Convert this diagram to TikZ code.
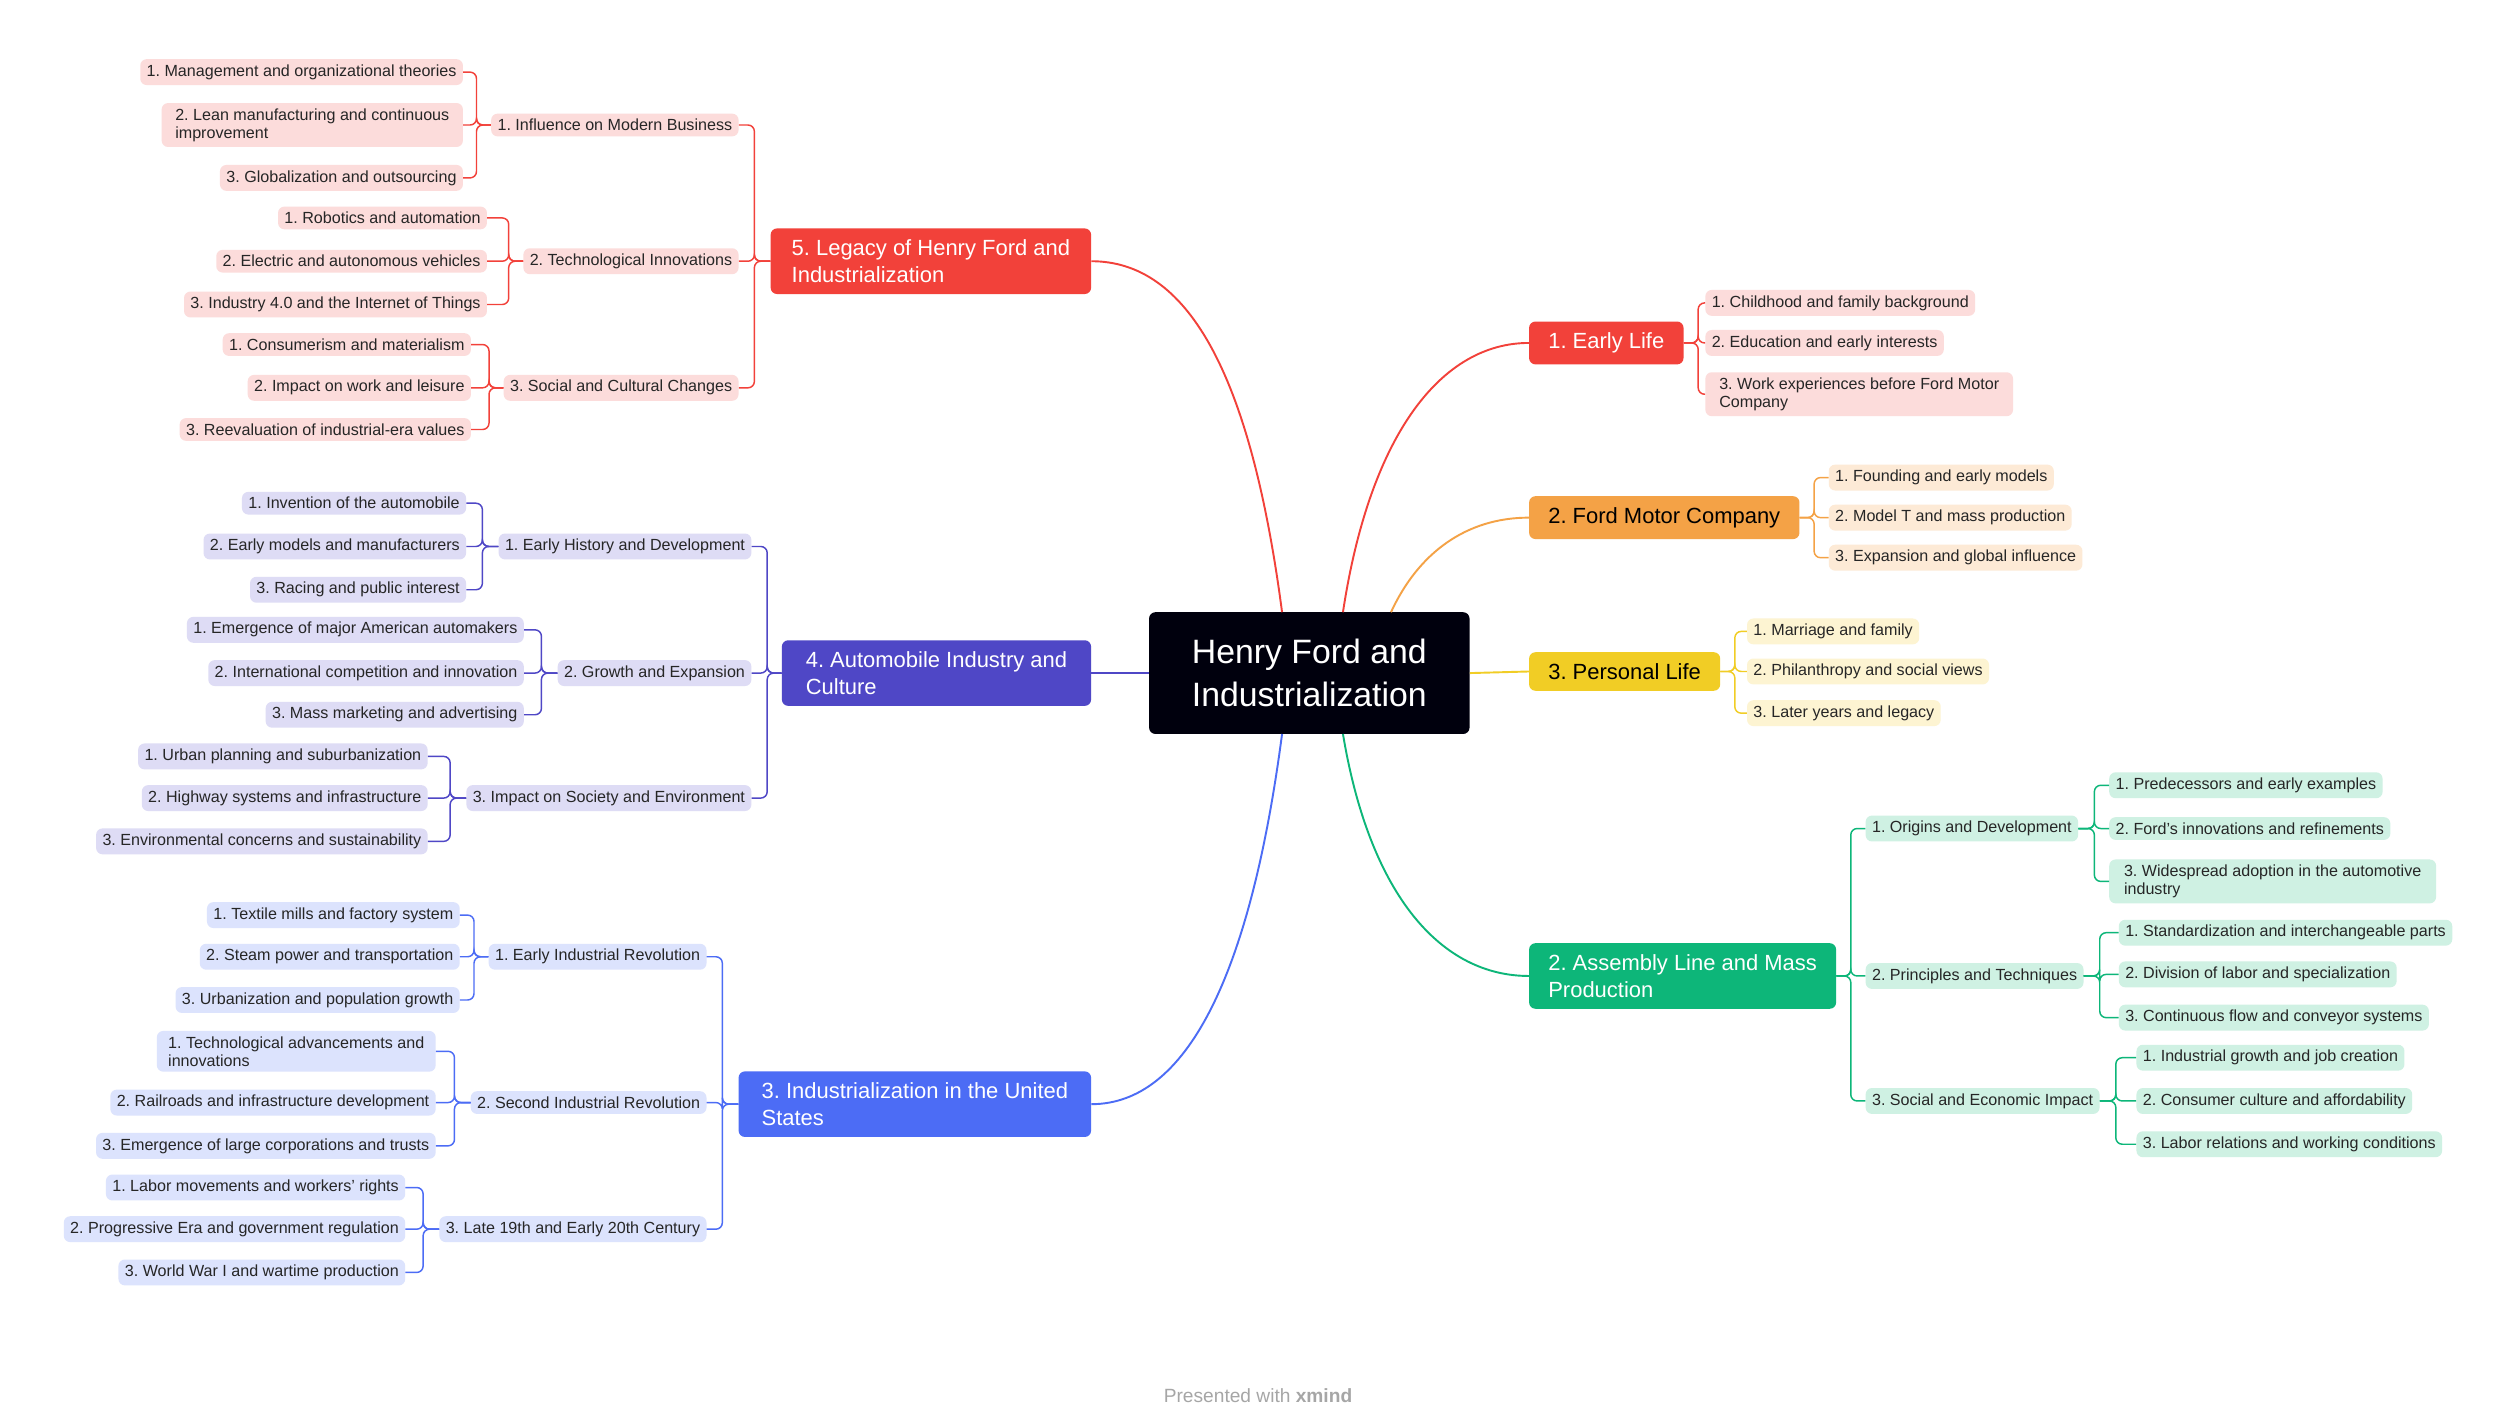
\documentclass[tikz,border=0pt]{standalone}
\usepackage{fontspec}
\setmainfont{Liberation Sans}
\frenchspacing
\newcommand\LeafL[5]{\node[leaf,fill=#1,anchor=east] (#2) at (#3,#4) {#5};}
\newcommand\LeafR[5]{\node[leaf,fill=#1,anchor=west] (#2) at (#3,#4) {#5};}
\begin{document}
\begin{tikzpicture}[x=0.05cm,y=-0.05cm,
 leaf/.style={rounded corners=0.2cm,inner xsep=0.2cm,inner ysep=0.17cm,font=\fontsize{14.3}{16}\selectfont,align=left,text=black!85},
 topic/.style={rounded corners=0.2cm,inner xsep=0.6cm,inner ysep=0.35cm,font=\fontsize{19.5}{24}\selectfont,align=left,text=white},
 lnk/.style={line width=1.3pt,rounded corners=0.2cm},
 cur/.style={line width=1.7pt}]
\definecolor{cr}{HTML}{F2413A}\definecolor{lr}{HTML}{FCDCDB}
\definecolor{co}{HTML}{F4A246}\definecolor{lo}{HTML}{FDEAD6}
\definecolor{cy}{HTML}{F1CD25}\definecolor{ly}{HTML}{FDF4D2}
\definecolor{cg}{HTML}{0DB679}\definecolor{lg}{HTML}{CFF1E3}
\definecolor{ci}{HTML}{4F47C6}\definecolor{li}{HTML}{DEDCF5}
\definecolor{cb}{HTML}{4C6CF5}\definecolor{lb}{HTML}{DCE3FD}
\useasboundingbox[fill=white] (0,0) rectangle (1560,885);
% central
\node[fill=black!95!blue,rounded corners=0.2cm,minimum width=10cm,minimum height=3.8cm,text=white,align=left,font=\fontsize{30}{38}\selectfont] (c) at (817,420) {Henry Ford and\\Industrialization};
% topics
\node[topic,fill=cr,anchor=east,minimum width=10cm] (t5) at (681,163) {5. Legacy of Henry Ford and\\Industrialization};
\node[topic,fill=ci,anchor=east,minimum width=9.65cm] (t4) at (681,420) {4. Automobile Industry and\\Culture};
\node[topic,fill=cb,anchor=east,minimum width=11cm] (t3) at (681,689) {3. Industrialization in the United\\States};
\node[topic,fill=cr,anchor=west] (r1) at (954,214) {1. Early Life};
\node[topic,fill=co,anchor=west,text=black] (r2) at (954,323) {2. Ford Motor Company};
\node[topic,fill=cy,anchor=west,text=black] (r3) at (954,419) {3. Personal Life};
\node[topic,fill=cg,anchor=west] (r4) at (954,609) {2. Assembly Line and Mass\\Production};
% central curves
\draw[cur,cr] (800,382) .. controls (780,230) and (740,163) .. (t5.east);
\draw[cur,cb] (800,458) .. controls (780,610) and (740,689) .. (t3.east);
\draw[cur,ci] (c.west) -- (t4.east);
\draw[cur,cr] (838,382) .. controls (855,270) and (900,214) .. (r1.west);
\draw[cur,co] (868,382) .. controls (885,345) and (915,323) .. (r2.west);
\draw[cur,cy] (c.east) -- (r3.west);
\draw[cur,cg] (838,458) .. controls (855,560) and (900,609) .. (r4.west);
% topic 5
\LeafL{lr}{a1}{461}{78}{1. Influence on Modern Business}
\LeafL{lr}{a2}{461}{163}{2. Technological Innovations}
\LeafL{lr}{a3}{461}{242}{3. Social and Cultural Changes}
\LeafL{lr}{a11}{289}{45}{1. Management and organizational theories}
\node[leaf,fill=lr,anchor=east,minimum width=9.4cm] (a12) at (289,78) {2. Lean manufacturing and continuous\\improvement};
\LeafL{lr}{a13}{289}{111}{3. Globalization and outsourcing}
\LeafL{lr}{a21}{304}{136}{1. Robotics and automation}
\LeafL{lr}{a22}{304}{163}{2. Electric and autonomous vehicles}
\LeafL{lr}{a23}{304}{190}{3. Industry 4.0 and the Internet of Things}
\LeafL{lr}{a31}{294}{215}{1. Consumerism and materialism}
\LeafL{lr}{a32}{294}{242}{2. Impact on work and leisure}
\LeafL{lr}{a33}{294}{268}{3. Reevaluation of industrial-era values}
\foreach \c in {a1,a2,a3} \draw[lnk,cr] (t5.west) -- ++(-10,0) |- (\c.east);
\foreach \c in {a11,a12,a13} \draw[lnk,cr] (a1.west) -- ++(-9,0) |- (\c.east);
\foreach \c in {a21,a22,a23} \draw[lnk,cr] (a2.west) -- ++(-9,0) |- (\c.east);
\foreach \c in {a31,a32,a33} \draw[lnk,cr] (a3.west) -- ++(-9,0) |- (\c.east);
% topic 4
\LeafL{li}{b1}{469}{341}{1. Early History and Development}
\LeafL{li}{b2}{469}{420}{2. Growth and Expansion}
\LeafL{li}{b3}{469}{498}{3. Impact on Society and Environment}
\LeafL{li}{b11}{291}{314}{1. Invention of the automobile}
\LeafL{li}{b12}{291}{341}{2. Early models and manufacturers}
\LeafL{li}{b13}{291}{368}{3. Racing and public interest}
\LeafL{li}{b21}{327}{393}{1. Emergence of major American automakers}
\LeafL{li}{b22}{327}{420}{2. International competition and innovation}
\LeafL{li}{b23}{327}{446}{3. Mass marketing and advertising}
\LeafL{li}{b31}{267}{472}{1. Urban planning and suburbanization}
\LeafL{li}{b32}{267}{498}{2. Highway systems and infrastructure}
\LeafL{li}{b33}{267}{525}{3. Environmental concerns and sustainability}
\foreach \c in {b1,b2,b3} \draw[lnk,ci] (t4.west) -- ++(-9,0) |- (\c.east);
\foreach \c in {b11,b12,b13} \draw[lnk,ci] (b1.west) -- ++(-10,0) |- (\c.east);
\foreach \c in {b21,b22,b23} \draw[lnk,ci] (b2.west) -- ++(-10,0) |- (\c.east);
\foreach \c in {b31,b32,b33} \draw[lnk,ci] (b3.west) -- ++(-10,0) |- (\c.east);
% topic 3
\LeafL{lb}{d1}{441}{597}{1. Early Industrial Revolution}
\LeafL{lb}{d2}{441}{688}{2. Second Industrial Revolution}
\LeafL{lb}{d3}{441}{767}{3. Late 19th and Early 20th Century}
\LeafL{lb}{d11}{287}{571}{1. Textile mills and factory system}
\LeafL{lb}{d12}{287}{597}{2. Steam power and transportation}
\LeafL{lb}{d13}{287}{624}{3. Urbanization and population growth}
\node[leaf,fill=lb,anchor=east,minimum width=8.7cm] (d21) at (272,656) {1. Technological advancements and\\innovations};
\LeafL{lb}{d22}{272}{688}{2. Railroads and infrastructure development}
\LeafL{lb}{d23}{272}{715}{3. Emergence of large corporations and trusts}
\LeafL{lb}{d31}{253}{741}{1. Labor movements and workers' rights}
\LeafL{lb}{d32}{253}{767}{2. Progressive Era and government regulation}
\LeafL{lb}{d33}{253}{794}{3. World War I and wartime production}
\foreach \c in {d1,d2,d3} \draw[lnk,cb] (t3.west) -- ++(-10,0) |- (\c.east);
\foreach \c in {d11,d12,d13} \draw[lnk,cb] (d1.west) -- ++(-9,0) |- (\c.east);
\foreach \c in {d21,d22,d23} \draw[lnk,cb] (d2.west) -- ++(-10,0) |- (\c.east);
\foreach \c in {d31,d32,d33} \draw[lnk,cb] (d3.west) -- ++(-10,0) |- (\c.east);
% right side
\LeafR{lr}{e1}{1064}{189}{1. Childhood and family background}
\LeafR{lr}{e2}{1064}{214}{2. Education and early interests}
\node[leaf,fill=lr,anchor=west,minimum width=9.6cm] (e3) at (1064,246) {3. Work experiences before Ford Motor\\Company};
\foreach \c in {e1,e2,e3} \draw[lnk,cr] (r1.east) -- ++(9,0) |- (\c.west);
\LeafR{lo}{f1}{1141}{298}{1. Founding and early models}
\LeafR{lo}{f2}{1141}{323}{2. Model T and mass production}
\LeafR{lo}{f3}{1141}{348}{3. Expansion and global influence}
\foreach \c in {f1,f2,f3} \draw[lnk,co] (r2.east) -- ++(9,0) |- (\c.west);
\LeafR{ly}{g1}{1090}{394}{1. Marriage and family}
\LeafR{ly}{g2}{1090}{419}{2. Philanthropy and social views}
\LeafR{ly}{g3}{1090}{445}{3. Later years and legacy}
\foreach \c in {g1,g2,g3} \draw[lnk,cy] (r3.east) -- ++(9,0) |- (\c.west);
\LeafR{lg}{h1}{1164}{517}{1. Origins and Development}
\LeafR{lg}{h2}{1164}{609}{2. Principles and Techniques}
\LeafR{lg}{h3}{1164}{687}{3. Social and Economic Impact}
\foreach \c in {h1,h2,h3} \draw[lnk,cg] (r4.east) -- ++(9,0) |- (\c.west);
\LeafR{lg}{h11}{1316}{490}{1. Predecessors and early examples}
\LeafR{lg}{h12}{1316}{517}{2. Ford's innovations and refinements}
\node[leaf,fill=lg,anchor=west,minimum width=10.2cm] (h13) at (1316,550) {3. Widespread adoption in the automotive\\industry};
\LeafR{lg}{h21}{1322}{582}{1. Standardization and interchangeable parts}
\LeafR{lg}{h22}{1322}{608}{2. Division of labor and specialization}
\LeafR{lg}{h23}{1322}{635}{3. Continuous flow and conveyor systems}
\LeafR{lg}{h31}{1333}{660}{1. Industrial growth and job creation}
\LeafR{lg}{h32}{1333}{687}{2. Consumer culture and affordability}
\LeafR{lg}{h33}{1333}{714}{3. Labor relations and working conditions}
\foreach \c in {h11,h12,h13} \draw[lnk,cg] (h1.east) -- ++(10,0) |- (\c.west);
\foreach \c in {h21,h22,h23} \draw[lnk,cg] (h2.east) -- ++(10,0) |- (\c.west);
\foreach \c in {h31,h32,h33} \draw[lnk,cg] (h3.east) -- ++(10,0) |- (\c.west);
\node[text=black!35,font=\fontsize{17}{19}\selectfont] (ft) at (785,871) {Presented with \textbf{xmind}};
\end{tikzpicture}
\end{document}
